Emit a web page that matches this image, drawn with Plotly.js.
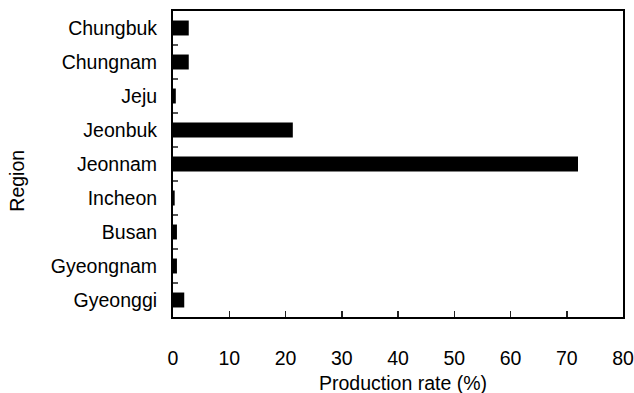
<!DOCTYPE html>
<html>
<head>
<meta charset="utf-8">
<script src="https://cdn.plot.ly/plotly-3.0.1.min.js"></script>
<style>
  html, body { margin: 0; padding: 0; background: #fff; }
  #chart { width: 634px; height: 393px; }
</style>
</head>
<body>
<div id="chart"></div>
<script>
// Regions, listed top to bottom as they appear on the axis
const regions = ["Chungbuk", "Chungnam", "Jeju", "Jeonbuk", "Jeonnam",
                 "Incheon", "Busan", "Gyeongnam", "Gyeonggi"];
// Share of total production per region (%)
const productionRate = [2.8, 2.8, 0.5, 21.3, 72.0, 0.3, 0.7, 0.7, 2.0];
// Tick values on the production-rate axis
const rateTicks = [0, 10, 20, 30, 40, 50, 60, 70, 80];

const font = "Liberation Sans, Arial, sans-serif";
const textSize = 19.5;

const trace = {
  type: "bar",
  orientation: "h",
  x: productionRate,
  y: regions,
  width: 0.44,
  marker: { color: "#000000", line: { width: 0 } },
  hoverinfo: "x+y"
};

const layout = {
  width: 634,
  height: 393,
  margin: { l: 173, r: 11, t: 11, b: 76 },
  paper_bgcolor: "#ffffff",
  plot_bgcolor: "#ffffff",
  showlegend: false,
  font: { family: font, size: textSize, color: "#000" },
  xaxis: {
    range: [0, 80],
    tickvals: rateTicks,
    ticktext: rateTicks.map(String),
    ticks: "inside",
    ticklen: 6,
    tickwidth: 1.5,
    tickcolor: "#222",
    ticklabelstandoff: 23,
    tickfont: { family: font, size: textSize, color: "#000" },
    showgrid: false,
    zeroline: false,
    showline: true,
    linecolor: "#000",
    linewidth: 2,
    mirror: true,
    fixedrange: true
  },
  yaxis: {
    type: "category",
    categoryorder: "array",
    categoryarray: regions,
    autorange: "reversed",
    tickson: "boundaries",
    ticks: "inside",
    ticklen: 5,
    tickwidth: 1.5,
    tickcolor: "#555",
    ticklabelstandoff: 10,
    tickfont: { family: font, size: textSize, color: "#000" },
    showgrid: false,
    zeroline: false,
    showline: true,
    linecolor: "#000",
    linewidth: 2,
    mirror: true,
    fixedrange: true
  },
  annotations: [
    {
      text: "Production rate (%)",
      xref: "paper", yref: "paper",
      x: 0.51, y: -0.215,
      xanchor: "center", yanchor: "middle",
      showarrow: false,
      font: { family: font, size: textSize, color: "#000" }
    },
    {
      text: "Region",
      xref: "paper", yref: "paper",
      x: -0.347, y: 0.445,
      xanchor: "center", yanchor: "middle",
      textangle: -90,
      showarrow: false,
      font: { family: font, size: textSize, color: "#000" }
    }
  ]
};

Plotly.newPlot("chart", [trace], layout, { displayModeBar: false, staticPlot: true });
</script>
</body>
</html>
